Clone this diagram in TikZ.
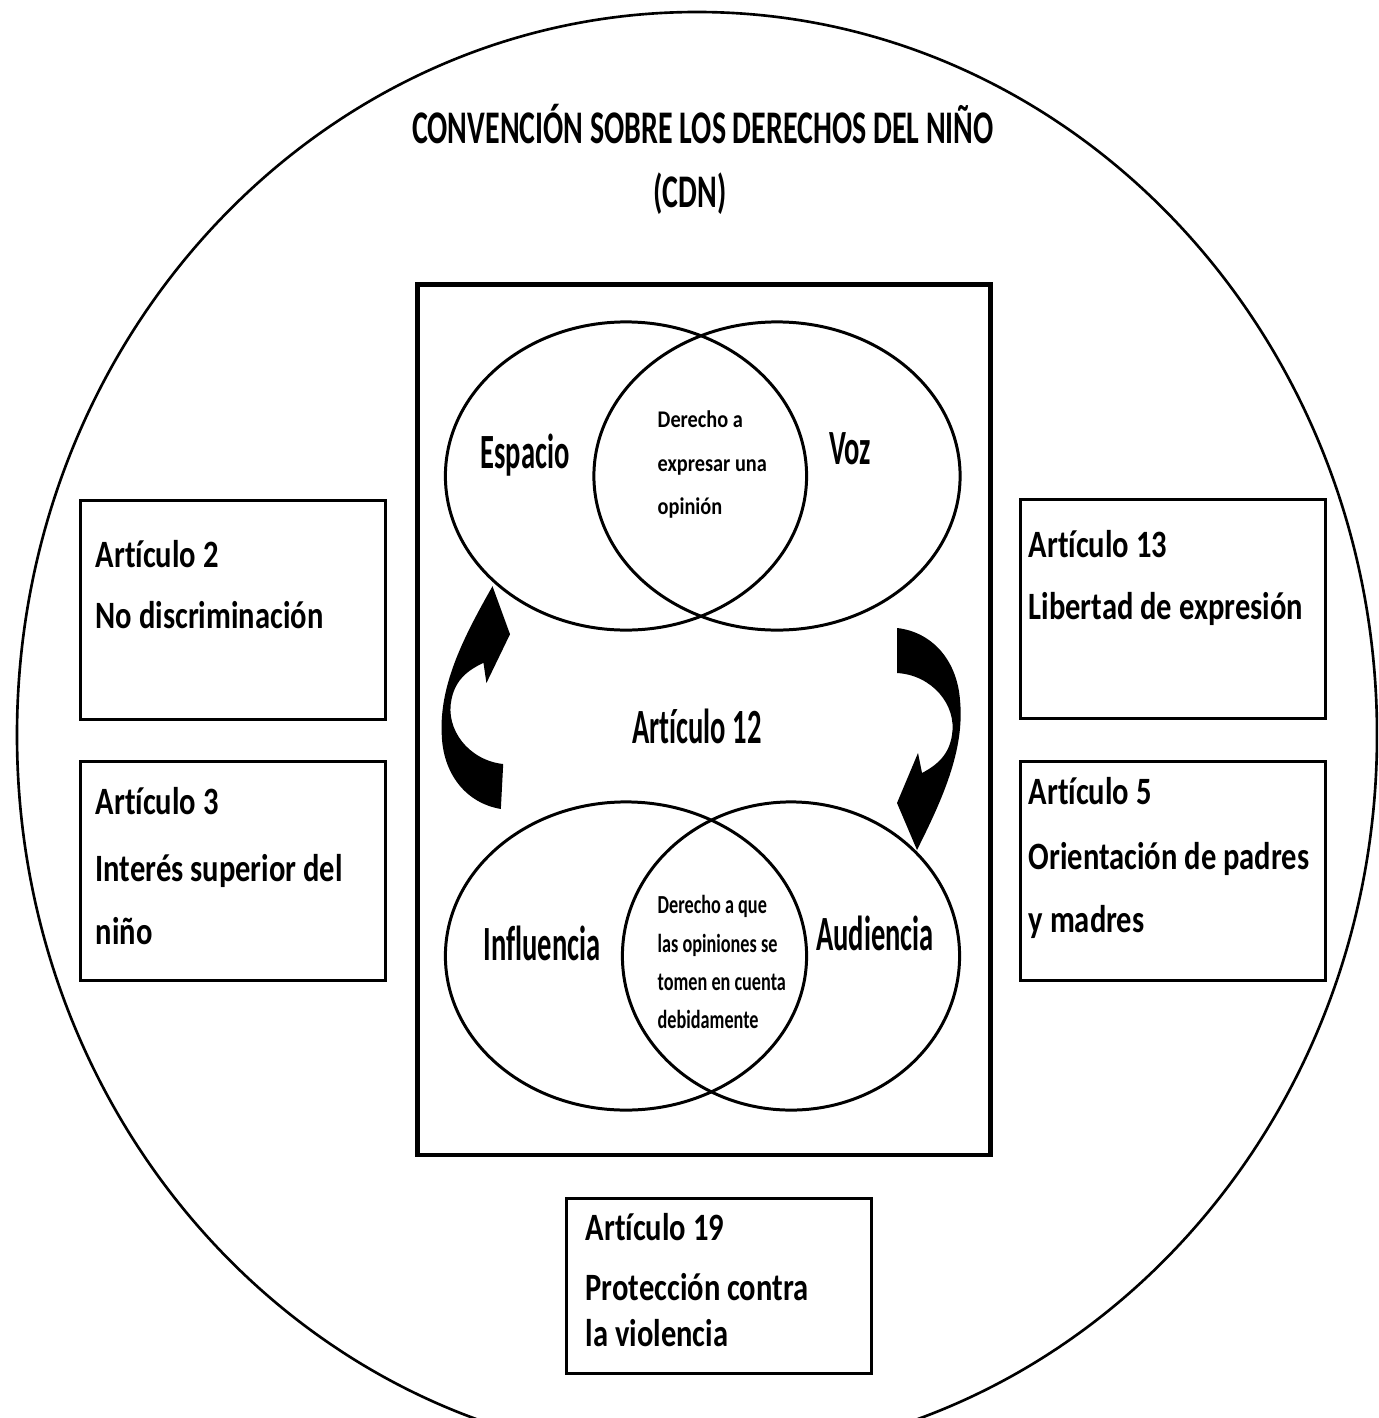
\documentclass[tikz,border=0pt]{standalone}
\usepackage{fontspec}
\setmainfont{Carlito}[Ligatures=NoCommon]
\newfontfamily\titlefont{Carlito}[FakeStretch=0.64, Ligatures=NoCommon]
\newfontfamily\boxfont{Carlito}[FakeStretch=0.79, Ligatures=NoCommon]
\newfontfamily\vennfont{Carlito}[FakeStretch=0.58, Ligatures=NoCommon]
\newfontfamily\innerfont{Carlito}[FakeStretch=0.85, Ligatures=NoCommon]
\newfontfamily\innerfontb{Carlito}[FakeStretch=0.70, Ligatures=NoCommon]
\usetikzlibrary{shapes.geometric,positioning}

\tikzset{
  artbox/.style={draw, line width=0.85pt, anchor=north west, minimum width=3.05cm, minimum height=2.19cm, inner sep=0pt},
  boxtext/.style={font=\boxfont\bfseries\fontsize{11}{12}\selectfont, anchor=base west, inner sep=0pt},
  venn/.style={draw, ellipse, line width=0.85pt, minimum height=3.08cm, inner sep=0pt},
  vennlabel/.style={font=\vennfont\bfseries\fontsize{14}{16}\selectfont, anchor=base, inner sep=0pt},
  innertext/.style={font=\innerfont\bfseries\fontsize{6.8}{8}\selectfont, anchor=base west, inner sep=0pt},
  innertextb/.style={font=\innerfontb\bfseries\fontsize{7.4}{8}\selectfont, anchor=base west, inner sep=0pt},
  curvarrow/.pic={
    \fill (0,-22) -- (0,23) .. controls (35,25) and (60,55) .. (55,85)
      .. controls (52,105) and (40,115) .. (25,123) -- (21,103) -- (0,153) -- (20,200)
      .. controls (45,150) and (68,100) .. (63,50) .. controls (60,10) and (35,-18) .. (0,-22) -- cycle;
  }
}

\begin{document}
\begin{tikzpicture}[x=0.01cm, y=-0.01cm]
    \useasboundingbox (0,0) rectangle (1378,1418);
    \clip (0,0) rectangle (1378,1418);
    \draw [line width=0.75pt] (697,735) ellipse [x radius=680, y radius=723];

    % Title
    \node [font=\titlefont\bfseries\fontsize{13.3}{15}\selectfont, anchor=base, inner sep=0pt] (titulo) at (703,143) {CONVENCIÓN SOBRE LOS DERECHOS DEL NIÑO};
    \node [font=\titlefont\bfseries\fontsize{13.3}{15}\selectfont, anchor=base, inner sep=0pt] (cdn) at (690,207) {(CDN)};

    % Article 12 frame
    \node [draw, line width=1.3pt, anchor=north west, minimum width=5.73cm, minimum height=8.7cm, inner sep=0pt] (marco) at (415,282) {};

    % Top Venn
    \node [venn, minimum width=3.61cm] (espacio) at (626,476) {};
    \node [venn, minimum width=3.66cm] (voz) at (777,476) {};
    \node [vennlabel] (espacio-t) at (525,468) {Espacio};
    \node [vennlabel] (voz-t) at (850,464) {Voz};
    \foreach \y/\txt [count=\i] in {427/Derecho a, 471/expresar una, 514/opinión} {
        \node [innertext] (opinion-\i) at (657,\y) {\txt};
    }

    % Bottom Venn
    \node [venn, minimum width=3.61cm] (influencia) at (626,956) {};
    \node [venn, minimum width=3.37cm] (audiencia) at (791,956) {};
    \node [vennlabel] (influencia-t) at (542,960) {Influencia};
    \node [vennlabel] (audiencia-t) at (875,950) {Audiencia};
    \foreach \y/\txt [count=\i] in {913/Derecho a que, 952/las opiniones se, 990/tomen en cuenta, 1028/debidamente} {
        \node [innertextb] (cuenta-\i) at (657,\y) {\txt};
    }

    \node [vennlabel] (art12) at (697,743) {Artículo 12};

    % Curved arrows
    \pic at (897,650) {curvarrow};
    \pic [rotate=177] at (502,787) {curvarrow};

    % Left boxes
    \node [artbox] (art2) at (79,499) {};
    \foreach \y/\txt [count=\i] in {567/Artículo 2, 628/No discriminación} {
        \node [boxtext] (art2-\i) at (95,\y) {\txt};
    }
    \node [artbox] (art3) at (79,760) {};
    \foreach \y/\txt [count=\i] in {814/Artículo 3, 881/Interés superior del, 944/niño} {
        \node [boxtext] (art3-\i) at (95,\y) {\txt};
    }

    % Right boxes
    \node [artbox] (art13) at (1019,498) {};
    \foreach \y/\txt [count=\i] in {557/Artículo 13, 619/Libertad de expresión} {
        \node [boxtext] (art13-\i) at (1028,\y) {\txt};
    }
    \node [artbox] (art5) at (1019,760) {};
    \foreach \y/\txt [count=\i] in {804/Artículo 5, 869/Orientación de padres, 932/y madres} {
        \node [boxtext] (art5-\i) at (1028,\y) {\txt};
    }

    % Bottom box
    \node [artbox, minimum height=1.75cm] (art19) at (565,1197) {};
    \foreach \y/\txt [count=\i] in {1240/Artículo 19, 1300/Protección contra, 1346/la violencia} {
        \node [boxtext] (art19-\i) at (585,\y) {\txt};
    }
\end{tikzpicture}
\end{document}
